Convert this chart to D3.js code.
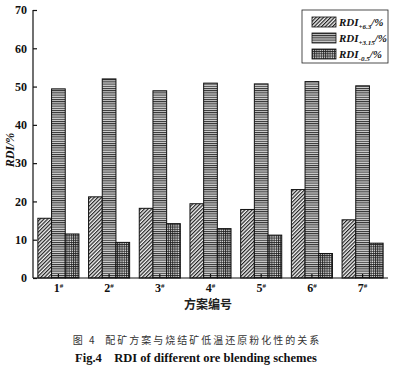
<!DOCTYPE html>
<html>
<head>
<meta charset="utf-8">
<script src="https://cdn.jsdelivr.net/npm/d3@7"></script>
<style>
  html, body { margin: 0; padding: 0; background: #fff; }
  svg { display: block; font-family: 'Liberation Serif', 'DejaVu Serif', serif; }
</style>
</head>
<body>
<div id="chart"></div>
<script>
const schemes = ['1', '2', '3', '4', '5', '6', '7']
const rdi63 = [15.6, 21.2, 18.2, 19.4, 17.9, 23.1, 15.2]
const rdi315 = [49.4, 52.0, 48.9, 50.9, 50.7, 51.3, 50.2]
const rdi05 = [11.5, 9.3, 14.2, 12.9, 11.2, 6.4, 9.1]
const yTicks = [0, 10, 20, 30, 40, 50, 60, 70]
const seriesKeys = ['p63', 'p315', 'm05']
const seriesSubs = ['+6.3', '+3.15', '-0.5']

const SIZE = Object.freeze({ WIDTH: 412, HEIGHT: 375 }),
      PLOT = Object.freeze({ LEFT: 33, RIGHT: 388, TOP: 10, BOTTOM: 278 })

const dataset = schemes.map((s, i) => ({
  scheme: s,
  p63: rdi63[i],
  p315: rdi315[i],
  m05: rdi05[i]
}))

const svg = d3.select('#chart')
  .append('svg')
  .attr('width', SIZE.WIDTH)
  .attr('height', SIZE.HEIGHT)

// fill patterns
const defs = svg.append('defs')
const diag = defs.append('pattern')
  .attr('id', 'pat-p63')
  .attr('patternUnits', 'userSpaceOnUse')
  .attr('width', 2.6).attr('height', 2.6)
  .attr('patternTransform', 'rotate(45)')
diag.append('rect').attr('width', 2.6).attr('height', 2.6).attr('fill', '#f4f4f4')
diag.append('line').attr('x1', 0.6).attr('y1', 0).attr('x2', 0.6).attr('y2', 2.6)
  .attr('stroke', '#222').attr('stroke-width', 1.2)

const horiz = defs.append('pattern')
  .attr('id', 'pat-p315')
  .attr('patternUnits', 'userSpaceOnUse')
  .attr('width', 4).attr('height', 2.2)
horiz.append('rect').attr('width', 4).attr('height', 2.2).attr('fill', '#d6d6d6')
horiz.append('line').attr('x1', 0).attr('y1', 0.5).attr('x2', 4).attr('y2', 0.5)
  .attr('stroke', '#2a2a2a').attr('stroke-width', 1)

const cross = defs.append('pattern')
  .attr('id', 'pat-m05')
  .attr('patternUnits', 'userSpaceOnUse')
  .attr('width', 2.2).attr('height', 2.2)
cross.append('rect').attr('width', 2.2).attr('height', 2.2).attr('fill', '#e8e8e8')
cross.append('path').attr('d', 'M0,0.5H2.2M0.5,0V2.2')
  .attr('stroke', '#222').attr('stroke-width', 0.9)

// scales
const x0 = d3.scaleBand()
  .domain(schemes)
  .range([PLOT.LEFT, PLOT.RIGHT])
  .paddingInner(0.19)
  .paddingOuter(0.096)

const x1 = d3.scaleBand()
  .domain(seriesKeys)
  .range([0, x0.bandwidth()])

const y = d3.scaleLinear()
  .domain([0, 70])
  .range([PLOT.BOTTOM, PLOT.TOP])

// bars
const groups = svg.append('g')
  .selectAll('g')
  .data(dataset)
  .join('g')
  .attr('transform', d => `translate(${x0(d.scheme)},0)`)

groups.selectAll('rect')
  .data(d => seriesKeys.map(k => ({ key: k, value: d[k] })))
  .join('rect')
  .attr('x', d => x1(d.key))
  .attr('y', d => y(d.value))
  .attr('width', x1.bandwidth())
  .attr('height', d => y(0) - y(d.value))
  .attr('fill', d => `url(#pat-${d.key})`)
  .attr('stroke', '#111')
  .attr('stroke-width', 1)

// axes
const yAxis = d3.axisLeft(y)
  .tickValues(yTicks)
  .tickSize(-4)
  .tickPadding(6)

const xAxis = d3.axisBottom(x0)
  .tickSize(-4)
  .tickPadding(5)

svg.append('g')
  .attr('transform', `translate(${PLOT.LEFT},0)`)
  .call(yAxis)
  .call(g => g.select('.domain').attr('stroke', '#111').attr('stroke-width', 1.2).attr('d', `M0,${PLOT.TOP}V${PLOT.BOTTOM}`))
  .call(g => g.selectAll('.tick line').attr('stroke', '#111').attr('stroke-width', 1.2))
  .call(g => g.selectAll('.tick text')
    .attr('fill', '#111')
    .style('font-size', '12px')
    .style('font-weight', 'bold')
    .style('font-family', 'Liberation Serif'))

svg.append('g')
  .attr('transform', `translate(0,${PLOT.BOTTOM})`)
  .call(xAxis)
  .call(g => g.select('.domain').attr('stroke', '#111').attr('stroke-width', 1.2).attr('d', `M${PLOT.LEFT},0H${PLOT.RIGHT}`))
  .call(g => g.selectAll('.tick line').attr('stroke', '#111').attr('stroke-width', 1.2))
  .call(g => g.selectAll('.tick text')
    .attr('fill', '#111')
    .style('font-size', '12px')
    .style('font-weight', 'bold')
    .style('font-family', 'Liberation Serif')
    .text(d => d)
    .append('tspan')
    .attr('dy', '-0.45em')
    .style('font-size', '7px')
    .text('#'))

// axis titles
svg.append('text')
  .attr('transform', `translate(14,${(PLOT.TOP + PLOT.BOTTOM) / 2 + 6}) rotate(-90)`)
  .attr('text-anchor', 'middle')
  .style('font-size', '12px')
  .style('font-style', 'italic')
  .style('font-weight', 'bold')
  .attr('fill', '#111')
  .text('RDI/%')

svg.append('text')
  .attr('x', 208)
  .attr('y', 309)
  .attr('text-anchor', 'middle')
  .style('font-family', "'Noto Sans CJK SC', sans-serif")
  .style('font-size', '12px')
  .style('font-weight', 'bold')
  .attr('fill', '#222')
  .text('方案编号')

// legend
const legend = svg.append('g').attr('id', 'legend')
legend.append('rect')
  .attr('x', 302).attr('y', 10)
  .attr('width', 86).attr('height', 53)
  .attr('fill', '#fff')
  .attr('stroke', '#222')
  .attr('stroke-width', 0.8)

const items = legend.selectAll('g.item')
  .data(seriesKeys)
  .join('g')
  .attr('class', 'item')
  .attr('transform', (d, i) => `translate(312,${17 + 16 * i})`)

items.append('rect')
  .attr('width', 24).attr('height', 10)
  .attr('fill', d => `url(#pat-${d})`)
  .attr('stroke', '#111')
  .attr('stroke-width', 0.8)

const labels = items.append('text')
  .attr('x', 27)
  .attr('y', 9)
  .style('font-size', '11px')
  .style('font-style', 'italic')
  .style('font-weight', 'bold')
  .attr('fill', '#111')
labels.append('tspan').text('RDI')
labels.append('tspan')
  .attr('dy', 3)
  .style('font-size', '7px')
  .text((d, i) => seriesSubs[i])
labels.append('tspan')
  .attr('dy', -3)
  .text('/%')

// caption
svg.append('text')
  .attr('x', 197)
  .attr('y', 344)
  .attr('text-anchor', 'middle')
  .style('font-family', "'Noto Sans CJK SC', sans-serif")
  .style('font-size', '10px')
  .style('letter-spacing', '2px')
  .style('white-space', 'pre')
  .attr('fill', '#333')
  .text('图 4  配矿方案与烧结矿低温还原粉化性的关系')

svg.append('text')
  .attr('x', 196)
  .attr('y', 362)
  .attr('text-anchor', 'middle')
  .style('font-size', '12.5px')
  .style('font-weight', 'bold')
  .style('white-space', 'pre')
  .attr('fill', '#111')
  .text('Fig.4    RDI of different ore blending schemes')
</script>
</body>
</html>
